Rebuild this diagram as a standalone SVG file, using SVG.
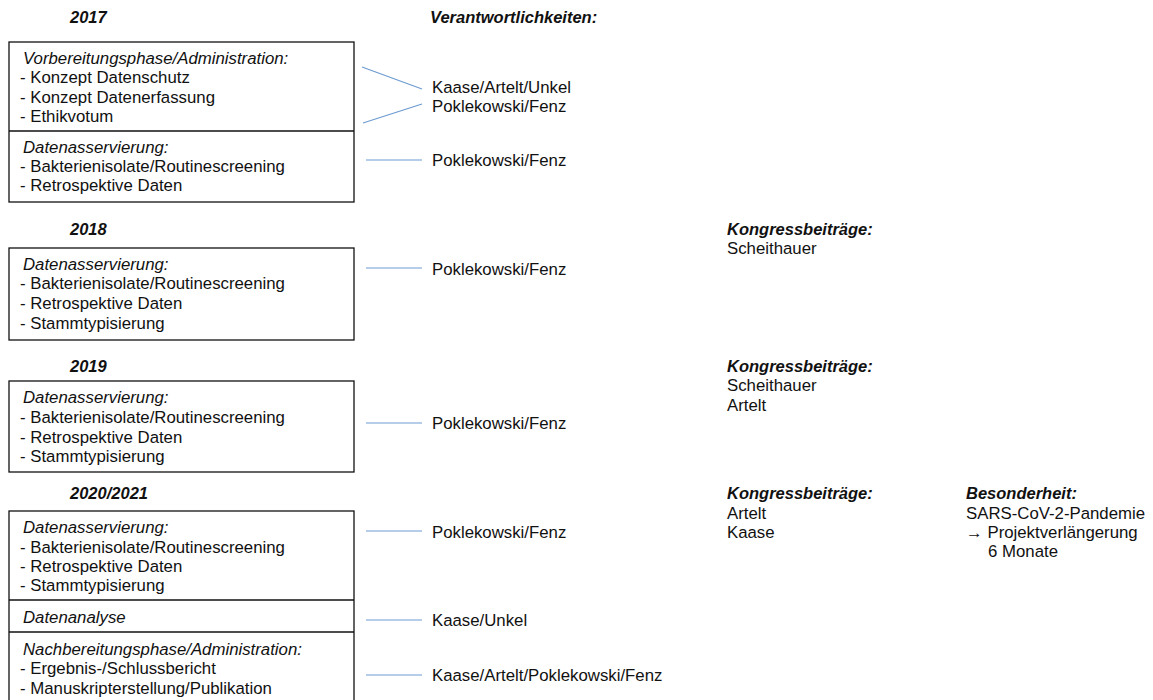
<svg xmlns="http://www.w3.org/2000/svg" width="1153" height="700" viewBox="0 0 1153 700">
<style>
text{font-family:"Liberation Sans",Arial,sans-serif;font-size:16.8px;fill:#111}
.h{font-weight:bold;font-style:italic;font-size:16.5px}
.i{font-style:italic}
.box{fill:#fff;stroke:#111;stroke-width:1.3}
.div{stroke:#111;stroke-width:1.3}
.c{stroke:#6d9bd1;stroke-width:1.2;fill:none}
</style>
<rect width="1153" height="700" fill="#fff"/>
<g id="headers">
<text class="h" x="70" y="23">2017</text>
<text class="h" x="430" y="23">Verantwortlichkeiten:</text>
<text class="h" x="70" y="235">2018</text>
<text class="h" x="70" y="372">2019</text>
<text class="h" x="70" y="499">2020/2021</text>
</g>
<g id="box2017">
<rect class="box" x="9" y="42" width="345" height="160"/>
<line class="div" x1="9" y1="131" x2="354" y2="131"/>
<text class="i" x="23" y="64">Vorbereitungsphase/Administration:</text>
<text x="20" y="83">- Konzept Datenschutz</text>
<text x="20" y="103">- Konzept Datenerfassung</text>
<text x="20" y="122">- Ethikvotum</text>
<text class="i" x="23" y="153">Datenasservierung:</text>
<text x="20" y="172">- Bakterienisolate/Routinescreening</text>
<text x="20" y="191">- Retrospektive Daten</text>
</g>
<g id="box2018">
<rect class="box" x="9" y="248" width="345" height="92"/>
<text class="i" x="23" y="270">Datenasservierung:</text>
<text x="20" y="289">- Bakterienisolate/Routinescreening</text>
<text x="20" y="309">- Retrospektive Daten</text>
<text x="20" y="329">- Stammtypisierung</text>
</g>
<g id="box2019">
<rect class="box" x="9" y="381" width="345" height="91"/>
<text class="i" x="23" y="403">Datenasservierung:</text>
<text x="20" y="423">- Bakterienisolate/Routinescreening</text>
<text x="20" y="443">- Retrospektive Daten</text>
<text x="20" y="462">- Stammtypisierung</text>
</g>
<g id="box2020">
<rect class="box" x="9" y="511" width="345" height="195"/>
<line class="div" x1="9" y1="600" x2="354" y2="600"/>
<line class="div" x1="9" y1="632" x2="354" y2="632"/>
<text class="i" x="23" y="533">Datenasservierung:</text>
<text x="20" y="553">- Bakterienisolate/Routinescreening</text>
<text x="20" y="572">- Retrospektive Daten</text>
<text x="20" y="591">- Stammtypisierung</text>
<text class="i" x="23" y="623">Datenanalyse</text>
<text class="i" x="23" y="655">Nachbereitungsphase/Administration:</text>
<text x="20" y="674">- Ergebnis-/Schlussbericht</text>
<text x="20" y="694">- Manuskripterstellung/Publikation</text>
</g>
<g id="connectors">
<line class="c" x1="362" y1="67" x2="422" y2="89"/>
<line class="c" x1="363" y1="123" x2="422" y2="104"/>
<line class="c" x1="366" y1="160" x2="422" y2="160"/>
<line class="c" x1="366" y1="268" x2="422" y2="268"/>
<line class="c" x1="366" y1="423" x2="422" y2="423"/>
<line class="c" x1="366" y1="531" x2="422" y2="531"/>
<line class="c" x1="366" y1="620" x2="422" y2="620"/>
<line class="c" x1="366" y1="675" x2="422" y2="675"/>
</g>
<g id="responsibilities">
<text x="432" y="93">Kaase/Artelt/Unkel</text>
<text x="432" y="112">Poklekowski/Fenz</text>
<text x="432" y="166">Poklekowski/Fenz</text>
<text x="432" y="275">Poklekowski/Fenz</text>
<text x="432" y="429">Poklekowski/Fenz</text>
<text x="432" y="538">Poklekowski/Fenz</text>
<text x="432" y="626">Kaase/Unkel</text>
<text x="432" y="681">Kaase/Artelt/Poklekowski/Fenz</text>
</g>
<g id="kongress2018">
<text class="h" x="727" y="235">Kongressbeiträge:</text>
<text x="727" y="254">Scheithauer</text>
</g>
<g id="kongress2019">
<text class="h" x="727" y="372">Kongressbeiträge:</text>
<text x="727" y="391">Scheithauer</text>
<text x="727" y="411">Artelt</text>
</g>
<g id="kongress2020">
<text class="h" x="727" y="499">Kongressbeiträge:</text>
<text x="727" y="519">Artelt</text>
<text x="727" y="538">Kaase</text>
</g>
<g id="besonderheit">
<text class="h" x="966" y="499">Besonderheit:</text>
<text x="966" y="519">SARS-CoV-2-Pandemie</text>
<text x="966" y="538">→ Projektverlängerung</text>
<text x="988" y="557">6 Monate</text>
</g>
</svg>
